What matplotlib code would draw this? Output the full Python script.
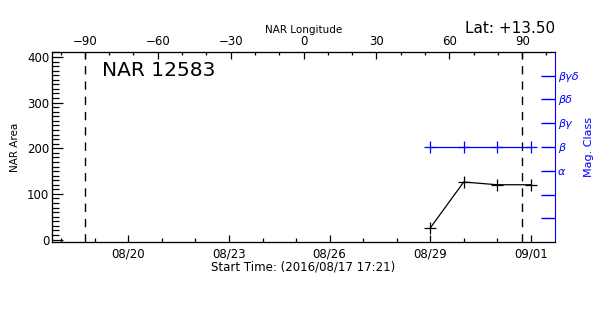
import matplotlib
matplotlib.use('Agg')
import matplotlib.pyplot as plt
import matplotlib.dates as mdates
from matplotlib.ticker import MultipleLocator, FixedLocator
from datetime import datetime, timedelta

# data
start_time = datetime(2016, 8, 17, 17, 21)
obs_days = ['2016-08-29', '2016-08-30', '2016-08-31', '2016-09-01']
nar_area = [25, 126, 120, 120]
mag_class = ['β', 'β', 'β', 'β']
class_names = ['', '', 'α', 'β', 'βγ', 'βδ', 'βγδ']
lon_ticks = [-90, -60, -30, 0, 30, 60, 90]
limb_lon = [-90, 90]
date_ticks = ['2016-08-20', '2016-08-23', '2016-08-26', '2016-08-29', '2016-09-01']

xs = [datetime.strptime(d, '%Y-%m-%d') for d in obs_days]
cls_y = [class_names.index(c) + 1 for c in mag_class]

fig = plt.figure(figsize=(6, 3.15), dpi=100)
ax = fig.add_axes([0.0867, 0.2317, 0.8383, 0.6033])

ax.plot(xs, nar_area, '-', color='black', lw=0.9, marker='+', ms=9, mew=0.9)
ax.set_xlim(start_time, start_time + timedelta(days=15))
ax.set_ylim(-5.5, 411)
ax.xaxis.set_major_locator(FixedLocator([mdates.date2num(datetime.strptime(d, '%Y-%m-%d')) for d in date_ticks]))
ax.xaxis.set_minor_locator(mdates.DayLocator())
ax.xaxis.set_major_formatter(mdates.DateFormatter('%m/%d'))
ax.yaxis.set_major_locator(MultipleLocator(100))
ax.yaxis.set_minor_locator(MultipleLocator(10))
ax.tick_params(axis='both', which='both', direction='in', labelsize=8.5, top=False, right=False, width=0.9)
ax.tick_params(axis='x', which='major', length=5, pad=4)
ax.tick_params(axis='x', which='minor', length=3)
ax.tick_params(axis='y', which='major', length=8, pad=2)
ax.tick_params(axis='y', which='minor', length=5)
ax.set_ylabel('NAR Area', fontsize=7.5, labelpad=5)
ax.set_xlabel('Start Time: (' + start_time.strftime('%Y/%m/%d %H:%M') + ')', fontsize=8.5, labelpad=0)
ax.spines['right'].set_visible(False)
ax.text(0.1, 0.95, 'NAR 12583', transform=ax.transAxes, fontsize=14.5, va='top', ha='left')

# longitude axis on top
axt = ax.twiny()
axt.set_xlim(-103.5, 103.5)
axt.set_xticks(lon_ticks)
axt.xaxis.set_minor_locator(MultipleLocator(10))
axt.yaxis.set_visible(False)
axt.tick_params(axis='x', which='both', direction='in', labelsize=8.5, pad=3, width=0.9)
axt.tick_params(axis='x', which='major', length=5)
axt.tick_params(axis='x', which='minor', length=2.5)
axt.set_xlabel('NAR Longitude', fontsize=7.5, labelpad=1)
for lon in limb_lon:
    axt.axvline(lon, color='black', ls=(0, (6, 5)), lw=1)
axt.spines['right'].set_visible(False)

# magnetic class axis on right
axr = ax.twinx()
axr.plot(xs, cls_y, '-', color='blue', lw=0.9, marker='+', ms=9, mew=0.9)
axr.set_ylim(0, 8)
axr.set_yticks(range(1, 8))
axr.set_yticklabels(class_names, color='blue', style='italic', fontsize=8)
axr.tick_params(axis='y', direction='in', length=10, width=1, color='blue', pad=2)
axr.spines['right'].set_color('blue')
axr.set_ylabel('Mag. Class', color='blue', fontsize=8)
axr.set_xlim(ax.get_xlim())

fig.text(0.925, 0.885, 'Lat: +13.50', fontsize=11, ha='right', va='bottom')

plt.savefig('out.png', dpi=100)
